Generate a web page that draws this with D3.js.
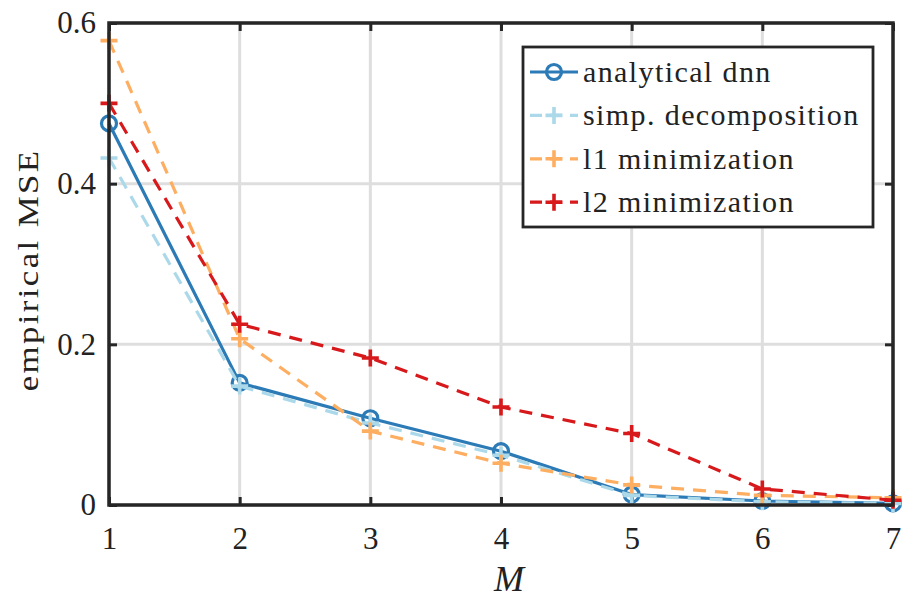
<!DOCTYPE html>
<html><head><meta charset="utf-8">
<script src="https://cdn.jsdelivr.net/npm/d3@7"></script>
</head><body style="margin:0">
<svg id="c" width="904" height="599" font-family="Liberation Serif"></svg>
<script>
const mValues = [1, 2, 3, 4, 5, 6, 7];
const analyticalDnn = [0.475, 0.152, 0.108, 0.067, 0.013, 0.005, 0.002];
const simpDecomposition = [0.432, 0.148, 0.102, 0.062, 0.012, 0.004, 0.002];
const l1Minimization = [0.578, 0.207, 0.092, 0.052, 0.025, 0.012, 0.009];
const l2Minimization = [0.500, 0.225, 0.183, 0.122, 0.089, 0.020, 0.006];
const xTicks = [1, 2, 3, 4, 5, 6, 7];
const yTicks = [0, 0.2, 0.4, 0.6];
const seriesNames = ["analytical dnn", "simp. decomposition", "l1 minimization", "l2 minimization"];

const series = [
  {name: seriesNames[0], values: analyticalDnn, color: "#2c7bb6", dash: null, marker: "circle"},
  {name: seriesNames[1], values: simpDecomposition, color: "#abd9e9", dash: "13,9", marker: "plus"},
  {name: seriesNames[2], values: l1Minimization, color: "#fdae61", dash: "13,9", marker: "plus"},
  {name: seriesNames[3], values: l2Minimization, color: "#d7191c", dash: "13,9", marker: "plus"}
];

const svg = d3.select("#c");
const L = 109, R = 893, T = 23, B = 505;
const x = d3.scaleLinear().domain([1, 7]).range([L, R]);
const y = d3.scaleLinear().domain([0, 0.6]).range([B, T]);
const FONT = "Liberation Serif, Tinos, serif";
const axisColor = "#262626";
const textColor = "#222";

function setFont(sel) { sel.style("font-family", FONT, "important"); }

svg.append("rect").attr("width", 904).attr("height", 599).attr("fill", "#fff");

// grid
const g = svg.append("g");
g.selectAll(".gx").data(xTicks).enter().append("line")
  .attr("x1", d => x(d)).attr("x2", d => x(d)).attr("y1", T).attr("y2", B)
  .attr("stroke", "#dedede").attr("stroke-width", 3);
g.selectAll(".gy").data(yTicks).enter().append("line")
  .attr("y1", d => y(d)).attr("y2", d => y(d)).attr("x1", L).attr("x2", R)
  .attr("stroke", "#dedede").attr("stroke-width", 3);

// axes with inward ticks
const tl = 8;
const xb = d3.axisBottom(x).tickValues(xTicks).tickSize(-tl).tickPadding(22).tickFormat(d3.format("d"));
const xt = d3.axisTop(x).tickValues(xTicks).tickSize(-tl).tickFormat("");
const yl = d3.axisLeft(y).tickValues(yTicks).tickSize(-tl).tickPadding(13).tickFormat(d => d === 0 ? "0" : d3.format(".1f")(d));
const yr = d3.axisRight(y).tickValues(yTicks).tickSize(-tl).tickFormat("");
function styleAxis(sel) {
  sel.attr("font-family", FONT).attr("font-size", 31);
  sel.select(".domain").remove();
  sel.selectAll(".tick line").attr("stroke", axisColor).attr("stroke-width", 3);
  sel.selectAll("text").attr("fill", textColor).call(setFont);
}
svg.append("g").attr("transform", `translate(0,${B})`).call(xb).call(styleAxis);
svg.append("g").attr("transform", `translate(0,${T})`).call(xt).call(styleAxis);
svg.append("g").attr("transform", `translate(${L},0)`).call(yl).call(styleAxis);
svg.append("g").attr("transform", `translate(${R},0)`).call(yr).call(styleAxis);

// lines
const line = d3.line().x((d, i) => x(mValues[i])).y(d => y(d));
function drawMarker(sel, s, cx, cy) {
  if (s.marker === "circle") {
    sel.append("circle").attr("cx", cx).attr("cy", cy).attr("r", 7.5)
      .attr("fill", "none").attr("stroke", s.color).attr("stroke-width", 3.2);
  } else {
    const h = 8.5;
    sel.append("path").attr("d", `M${cx - h},${cy}H${cx + h}M${cx},${cy - h}V${cy + h}`)
      .attr("stroke", s.color).attr("stroke-width", 3.6).attr("fill", "none");
  }
}
const plot = svg.append("g");
series.forEach(s => {
  plot.append("path").datum(s.values).attr("d", line)
    .attr("fill", "none").attr("stroke", s.color).attr("stroke-width", 3.2)
    .attr("stroke-dasharray", s.dash).attr("stroke-linejoin", "round");
  s.values.forEach((v, i) => drawMarker(plot, s, x(mValues[i]), y(v)));
});

// box
svg.append("rect").attr("x", L).attr("y", T).attr("width", R - L).attr("height", B - T)
  .attr("fill", "none").attr("stroke", axisColor).attr("stroke-width", 3.5);

// legend
const lg = svg.append("g");
lg.append("rect").attr("x", 523).attr("y", 47).attr("width", 350).attr("height", 180)
  .attr("fill", "#fff").attr("stroke", axisColor).attr("stroke-width", 2.8);
series.forEach((s, i) => {
  const cy = 72 + i * 43.4;
  lg.append("line").attr("x1", 530).attr("x2", 578).attr("y1", cy).attr("y2", cy)
    .attr("stroke", s.color).attr("stroke-width", 3.2).attr("stroke-dasharray", s.dash ? "12,8" : null);
  drawMarker(lg, s, 554, cy);
  lg.append("text").attr("x", 583).attr("y", cy + 10).text(s.name)
    .attr("fill", textColor).attr("font-size", 30)
    .attr("letter-spacing", 1.4).call(setFont);
});

// axis labels
svg.append("text").attr("x", (L + R) / 2 + 8).attr("y", 591).attr("text-anchor", "middle")
  .text("M").attr("font-style", "italic").attr("font-size", 36).attr("fill", textColor).call(setFont);
svg.append("text").attr("transform", `translate(38,270) rotate(-90) scale(1.2,1)`).attr("text-anchor", "middle")
  .text("empirical MSE").attr("font-size", 29).attr("letter-spacing", 2)
  .attr("fill", textColor).call(setFont);
</script>
</body></html>
